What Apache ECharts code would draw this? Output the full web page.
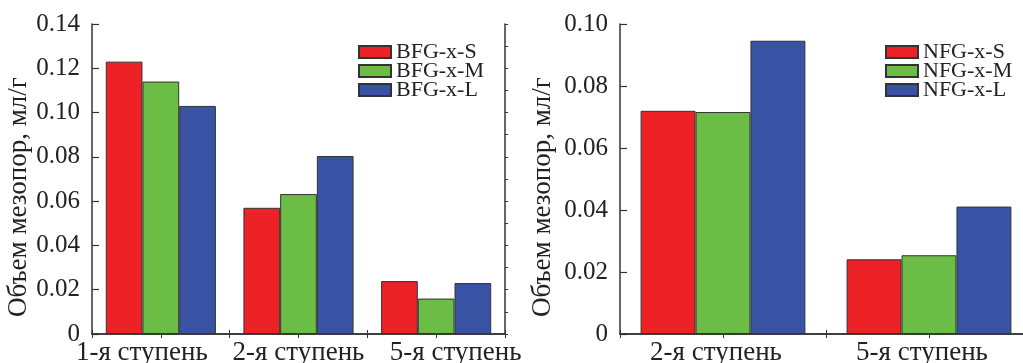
<!DOCTYPE html>
<html>
<head>
<meta charset="utf-8">
<script src="https://cdn.jsdelivr.net/npm/echarts@6/dist/echarts.min.js"></script>
<style>html,body{margin:0;padding:0;background:#fff;}#c{width:1023px;height:363px;}</style>
</head>
<body>
<div id="c"></div>
<script>
const categoriesBFG = ['1-я ступень', '2-я ступень', '5-я ступень'];
const categoriesNFG = ['2-я ступень', '5-я ступень'];
const namesBFG = ['BFG-x-S', 'BFG-x-M', 'BFG-x-L'];
const namesNFG = ['NFG-x-S', 'NFG-x-M', 'NFG-x-L'];
const bfgS = [0.123, 0.057, 0.0239];
const bfgM = [0.114, 0.0632, 0.016];
const bfgL = [0.103, 0.0804, 0.023];
const nfgS = [0.072, 0.0241];
const nfgM = [0.0716, 0.0254];
const nfgL = [0.0946, 0.0411];
const yTicksBFG = [0, 0.14, 0.02];
const yTicksNFG = [0, 0.10, 0.02];
const yName = 'Объем мезопор, мл/г';

const FONT = "'Liberation Serif', 'Times New Roman', serif";
const LINE = '#333';
const colors = ['#EC2227', '#6BBD45', '#3953A4'];

const fmt = v => v === 0 ? '0' : v.toFixed(2);

const chart = echarts.init(document.getElementById('c'), null, {renderer: 'canvas'});

const gridL = {left: 92, width: 413, top: 24, height: 310, outerBoundsMode: 'none', containLabel: false};
const gridR = {left: 620, width: 412, top: 24, height: 310, outerBoundsMode: 'none', containLabel: false};

function hiddenY(gi) {
  return {type: 'value', gridIndex: gi, show: false, min: 0, max: 1};
}
function tickX(gi, pos, max, showLine) {
  return {
    type: 'value', gridIndex: gi, position: pos, min: 0, max: max, interval: 1,
    axisLine: {show: showLine, lineStyle: {color: LINE, width: 1.5}},
    axisTick: {show: true, inside: true, length: 4, lineStyle: {color: LINE, width: 1}},
    axisLabel: {show: false}, splitLine: {show: false}
  };
}
function mainY(gi, t, gap) {
  return {
    type: 'value', gridIndex: gi, min: t[0], max: t[1], interval: t[2], position: 'left',
    name: yName, nameLocation: 'middle', nameGap: gap,
    nameTextStyle: {fontFamily: FONT, fontSize: 27, color: '#222', padding: [0, 36, 0, 0]},
    axisLine: {show: true, lineStyle: {color: LINE, width: 1.5}},
    axisTick: {show: true, inside: true, length: 7, lineStyle: {color: LINE, width: 1.2}},
    axisLabel: {formatter: fmt, fontFamily: FONT, fontSize: 25, color: '#222', margin: 12},
    splitLine: {show: false}
  };
}
function rightY(gi, t) {
  return {
    type: 'value', gridIndex: gi, min: t[0], max: t[1], interval: t[2] / 2, position: 'right',
    axisLine: {show: true, lineStyle: {color: LINE, width: 1.5}},
    axisTick: {show: true, inside: false, length: 3, lineStyle: {color: LINE, width: 1}},
    axisLabel: {show: false}, splitLine: {show: false}
  };
}
function catX(gi, cats, labelPad) {
  return {
    type: 'category', gridIndex: gi, position: 'bottom', data: cats.map((c, i) => ({value: c, textStyle: {padding: labelPad[i]}})),
    axisLine: {show: true, lineStyle: {color: LINE, width: 1.5}},
    axisTick: {show: false},
    axisLabel: {fontFamily: FONT, fontSize: 27, color: '#222', margin: 5, interval: 0},
    splitLine: {show: false}
  };
}

function bar(name, data, ci, xi, yi) {
  return {
    type: 'bar', name: name, data: data, xAxisIndex: xi, yAxisIndex: yi,
    barGap: '0%', barCategoryGap: '20%',
    itemStyle: {color: colors[ci], borderColor: LINE, borderWidth: 1},
    emphasis: {disabled: true}, animation: false
  };
}

const legendBase = {
  orient: 'vertical', itemWidth: 32, itemHeight: 12, itemGap: -3, padding: 0,
  textStyle: {fontFamily: FONT, fontSize: 22, color: '#222'},
  icon: 'rect'
};

const option = {
  animation: false,
  backgroundColor: '#fff',
  grid: [gridL, gridL, gridR, gridR],
  xAxis: [
    catX(0, categoriesBFG, [[0, 38, 0, 0], [0, 0, 0, 0], [0, 0, 0, 39]]),
    tickX(0, 'top', 6, true),
    tickX(1, 'bottom', 6, false),
    catX(2, categoriesNFG, [[0, 14, 0, 0], [0, 14, 0, 0]]),
    tickX(2, 'top', 4, true),
    tickX(3, 'bottom', 4, false)
  ],
  yAxis: [
    mainY(0, yTicksBFG, 56),
    rightY(0, yTicksBFG),
    hiddenY(1),
    mainY(2, yTicksNFG, 64),
    rightY(2, yTicksNFG),
    hiddenY(3)
  ],
  legend: [
    Object.assign({}, legendBase, {left: 358, top: 41, data: namesBFG}),
    Object.assign({}, legendBase, {left: 885, top: 41, data: namesNFG})
  ],
  series: [
    bar(namesBFG[0], bfgS, 0, 0, 0),
    bar(namesBFG[1], bfgM, 1, 0, 0),
    bar(namesBFG[2], bfgL, 2, 0, 0),
    bar(namesNFG[0], nfgS, 0, 3, 3),
    bar(namesNFG[1], nfgM, 1, 3, 3),
    bar(namesNFG[2], nfgL, 2, 3, 3)
  ]
};
chart.setOption(option);
</script>
</body>
</html>
